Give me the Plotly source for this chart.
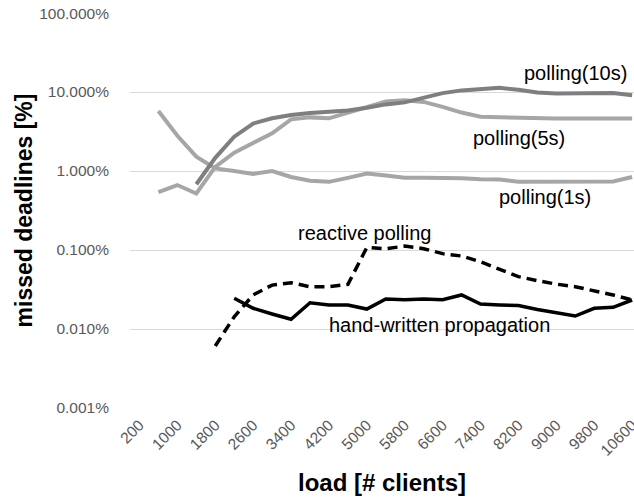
import plotly.graph_objects as go

loads = list(range(200, 10601, 400))
tick_loads = list(range(200, 10601, 800))
tick_labels = [str(v) for v in tick_loads]
y_tickvals = [0.001, 0.01, 0.1, 1, 10, 100]
y_ticktext = ["0.001%", "0.010%", "0.100%", "1.000%", "10.000%", "100.000%"]

N = None
polling_1s = [N, 5.75, 2.8, 1.52, 1.08, 1.0, 0.92, 1.0, 0.84, 0.755, 0.73, 0.82, 0.93, 0.88,
              0.82, 0.82, 0.82, 0.81, 0.785, 0.78, 0.73, 0.73, 0.75, 0.75, 0.75, 0.74, 0.84]
polling_5s = [N, 0.54, 0.665, 0.52, 1.13, 1.71, 2.24, 3.0, 4.51, 4.78, 4.65, 5.47, 6.32, 7.6,
              7.9, 7.5, 6.5, 5.5, 4.87, 4.78, 4.7, 4.65, 4.62, 4.62, 4.62, 4.65, 4.62]
polling_10s = [N, N, N, 0.68, 1.47, 2.72, 4.0, 4.65, 5.11, 5.42, 5.63, 5.86, 6.32, 6.98,
               7.4, 8.5, 9.7, 10.5, 10.9, 11.3, 10.7, 9.9, 9.6, 9.6, 9.6, 9.7, 9.1]
reactive = [N, N, N, N, 0.0061, 0.0143, 0.027, 0.036, 0.0386, 0.0343, 0.0343, 0.0367, 0.108,
            0.104, 0.112, 0.104, 0.09, 0.084, 0.071, 0.057, 0.046, 0.041, 0.037, 0.0343,
            0.0305, 0.027, 0.0233]
handwritten = [N, N, N, N, N, 0.0245, 0.0183, 0.0155, 0.0133, 0.0215, 0.0201, 0.0201, 0.0179,
               0.024, 0.0235, 0.024, 0.0235, 0.027, 0.0207, 0.0202, 0.0198, 0.0177, 0.0162,
               0.0146, 0.0183, 0.0188, 0.0233]

series = [
    ("polling(1s)", polling_1s, "#A6A6A6", 4, "solid"),
    ("polling(5s)", polling_5s, "#A6A6A6", 4, "solid"),
    ("polling(10s)", polling_10s, "#7F7F7F", 4, "solid"),
    ("reactive polling", reactive, "#000000", 3.5, "10px,6px"),
    ("hand-written propagation", handwritten, "#000000", 3.5, "solid"),
]

FONT = "Liberation Sans, Arial, sans-serif"
fig = go.Figure()
for name, vals, color, w, dash in series:
    fig.add_trace(go.Scatter(x=loads, y=vals, mode="lines", name=name,
                             line=dict(color=color, width=w, dash=dash),
                             connectgaps=False))

labels = [
    ("polling(10s)", 9400, 1.24),
    ("polling(5s)", 8210, 0.418),
    ("polling(1s)", 8760, -0.329),
    ("reactive polling", 4945, -0.785),
    ("hand-written propagation", 6536, -1.949),
]
for text, x, y in labels:
    fig.add_annotation(x=x, y=y, xref="x", yref="y", text=text, showarrow=False,
                       font=dict(family=FONT, size=20, color="#000000"))

fig.update_layout(
    width=634, height=500,
    margin=dict(l=130, r=0, t=13, b=92, autoexpand=False),
    paper_bgcolor="white", plot_bgcolor="white",
    showlegend=False,
    font=dict(family=FONT),
)
fig.update_xaxes(
    range=[0, 10640], tickvals=tick_loads, ticktext=tick_labels, tickangle=-45,
    showgrid=False, zeroline=False, showline=False, automargin=False,
    ticklabeloverflow="allow", ticks="outside", ticklen=1, tickcolor="rgba(0,0,0,0)",
    tickfont=dict(family=FONT, size=15.5, color="#595959"),
    title=dict(text="<b>load [# clients]</b>", font=dict(family=FONT, size=24, color="#000000"),
               standoff=16),
)
fig.update_yaxes(
    type="log", range=[-3, 2.001], tickvals=y_tickvals, ticktext=y_ticktext,
    showgrid=True, gridcolor="#D9D9D9", gridwidth=1, zeroline=False, showline=False,
    automargin=False, ticklabeloverflow="allow",
    tickfont=dict(family=FONT, size=15.5, color="#595959"), ticklabelstandoff=20,
    title=dict(text="<b>missed deadlines [%]</b>", font=dict(family=FONT, size=23, color="#000000"),
               standoff=0),
)

fig.write_html("out.html", config={"displayModeBar": False},
               post_script="document.body.style.margin='0';")
